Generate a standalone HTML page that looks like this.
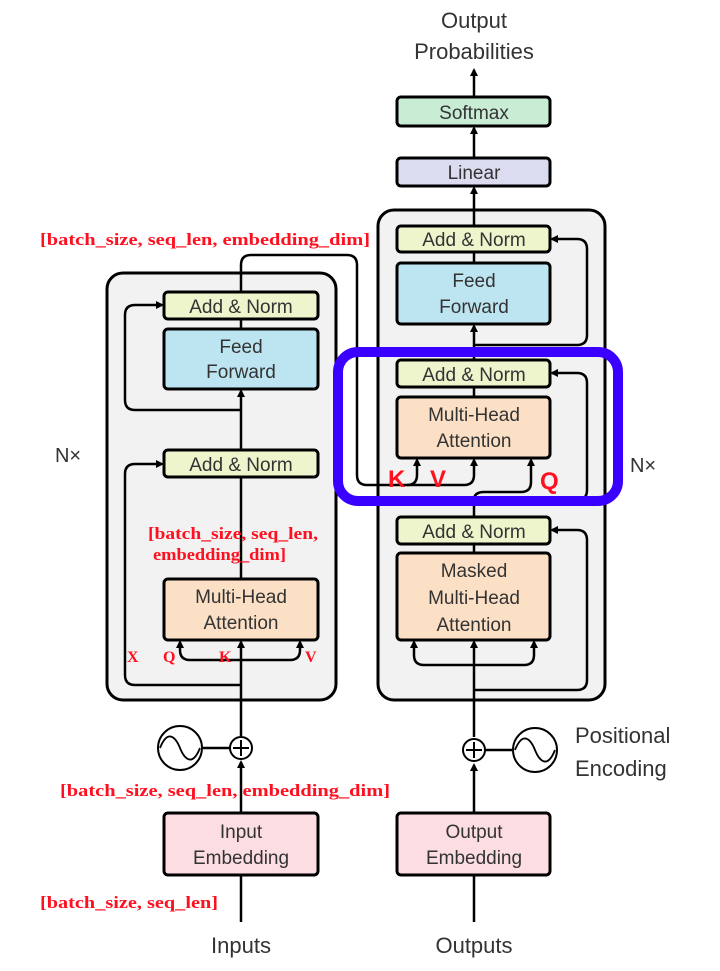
<!DOCTYPE html>
<html><head><meta charset="utf-8"><style>
html,body{margin:0;padding:0;background:#fff;}
svg{display:block;}
.t{font-family:"Liberation Sans",sans-serif;fill:#333;font-size:19px;text-anchor:middle;}
.r{font-family:"Liberation Serif",serif;fill:#ff1020;font-weight:bold;font-size:17px;}
.ln{stroke:#000;stroke-width:2.5;fill:none;}
.bx{stroke:#000;stroke-width:3;}
</style></head><body>
<svg width="720" height="971" viewBox="0 0 720 971" xmlns="http://www.w3.org/2000/svg">
<defs><marker id="a" markerWidth="8" markerHeight="8" refX="6" refY="4" orient="auto" markerUnits="userSpaceOnUse"><path d="M0,0 L8,4 L0,8 Z" fill="#000"/></marker></defs>

<rect x="107" y="273" width="229" height="427" rx="16" fill="#f2f2f2" class="bx"/>
<rect x="378" y="210" width="227" height="490" rx="16" fill="#f2f2f2" class="bx"/>

<path class="ln" d="M241 922 V 822" marker-end="url(#a)"/>
<path class="ln" d="M241 813 V 762" marker-end="url(#a)"/>
<path class="ln" d="M241 736 V 642" marker-end="url(#a)"/>
<path class="ln" d="M241 685 H 135 Q 125 685 125 675 V 474 Q125 464 135 464 H 162" marker-end="url(#a)"/>
<path class="ln" d="M241 660 H 190 Q 180 660 180 650 V 642" marker-end="url(#a)"/>
<path class="ln" d="M241 660 H 290 Q 300 660 300 650 V 642" marker-end="url(#a)"/>
<path class="ln" d="M241 579 V 477"/>
<path class="ln" d="M241 450 V 391" marker-end="url(#a)"/>
<path class="ln" d="M241 410 H 135 Q125 410 125 400 V 315 Q125 305 135 305 H 162" marker-end="url(#a)"/>
<path class="ln" d="M241 329 V 319"/>
<path class="ln" d="M241 292 V 265 Q241 255 251 255 H 347 Q357 255 357 265 V 475 Q357 485 367 485 H 464 Q474 485 474 475 V 460" marker-end="url(#a)"/>
<path class="ln" d="M407 485 Q417 485 417 475 V 460" marker-end="url(#a)"/>

<path class="ln" d="M474 922 V 822" marker-end="url(#a)"/>
<path class="ln" d="M474 813 V 765" marker-end="url(#a)"/>
<path class="ln" d="M474 737 V 642" marker-end="url(#a)"/>
<path class="ln" d="M474 665 H 424 Q414 665 414 655 V 642" marker-end="url(#a)"/>
<path class="ln" d="M474 665 H 524 Q534 665 534 655 V 642" marker-end="url(#a)"/>
<path class="ln" d="M474 690 H 577 Q587 690 587 680 V 540 Q587 530 577 530 H 552" marker-end="url(#a)"/>
<path class="ln" d="M474 553 V 544"/>
<path class="ln" d="M474 517 V 500 Q474 492 484 492 H 521 Q531 492 531 482 V 460" marker-end="url(#a)"/>
<path class="ln" d="M474 500 H 577 Q587 500 587 490 V 383 Q587 373 577 373 H 552" marker-end="url(#a)"/>
<path class="ln" d="M474 397 V 387"/>
<path class="ln" d="M474 360 V 326" marker-end="url(#a)"/>
<path class="ln" d="M474 345 H 577 Q587 345 587 335 V 249 Q587 239 577 239 H 552" marker-end="url(#a)"/>
<path class="ln" d="M474 263 V 252"/>
<path class="ln" d="M474 226 V 188" marker-end="url(#a)"/>
<path class="ln" d="M474 158 V 128" marker-end="url(#a)"/>
<path class="ln" d="M474 97 V 70" marker-end="url(#a)"/>

<rect x="164" y="292" width="154" height="27" rx="4" fill="#eef4cc" class="bx"/>
<text class="t" x="241" y="313">Add &amp; Norm</text>
<rect x="164" y="329" width="154" height="60" rx="4" fill="#bce5f1" class="bx"/>
<text class="t" x="241" y="353">Feed</text><text class="t" x="241" y="378">Forward</text>
<rect x="164" y="450" width="154" height="27" rx="4" fill="#eef4cc" class="bx"/>
<text class="t" x="241" y="471">Add &amp; Norm</text>
<rect x="164" y="579" width="154" height="61" rx="4" fill="#fbe0c6" class="bx"/>
<text class="t" x="241" y="603">Multi-Head</text><text class="t" x="241" y="629">Attention</text>

<rect x="397" y="97" width="153" height="29" rx="4" fill="#c9ecd5" class="bx"/>
<text class="t" x="474" y="119">Softmax</text>
<rect x="397" y="158" width="153" height="28" rx="4" fill="#dcdcf0" class="bx"/>
<text class="t" x="474" y="179">Linear</text>
<rect x="397" y="226" width="153" height="26" rx="4" fill="#eef4cc" class="bx"/>
<text class="t" x="474" y="246">Add &amp; Norm</text>
<rect x="397" y="263" width="153" height="61" rx="4" fill="#bce5f1" class="bx"/>
<text class="t" x="474" y="287">Feed</text><text class="t" x="474" y="313">Forward</text>
<rect x="397" y="360" width="153" height="27" rx="4" fill="#eef4cc" class="bx"/>
<text class="t" x="474" y="381">Add &amp; Norm</text>
<rect x="397" y="397" width="153" height="61" rx="4" fill="#fbe0c6" class="bx"/>
<text class="t" x="474" y="421">Multi-Head</text><text class="t" x="474" y="447">Attention</text>
<rect x="397" y="517" width="153" height="27" rx="4" fill="#eef4cc" class="bx"/>
<text class="t" x="474" y="538">Add &amp; Norm</text>
<rect x="397" y="553" width="153" height="87" rx="4" fill="#fbe0c6" class="bx"/>
<text class="t" x="474" y="577">Masked</text><text class="t" x="474" y="604">Multi-Head</text><text class="t" x="474" y="631">Attention</text>

<rect x="164" y="813" width="154" height="62" rx="4" fill="#fbdde2" class="bx"/>
<text class="t" x="241" y="838">Input</text><text class="t" x="241" y="864">Embedding</text>
<rect x="397" y="813" width="153" height="62" rx="4" fill="#fbdde2" class="bx"/>
<text class="t" x="474" y="838">Output</text><text class="t" x="474" y="864">Embedding</text>

<path class="ln" d="M203 748 H 230"/>
<circle cx="180" cy="748" r="22" fill="#fff" stroke="#000" stroke-width="2"/>
<path d="M160 748 C 168 728, 176 738, 180 748 C 184 758, 192 768, 200 748" fill="none" stroke="#000" stroke-width="1.8"/>
<circle cx="241" cy="748" r="11" fill="#fff" stroke="#000" stroke-width="2"/>
<path d="M233 748 H249 M241 740 V756" stroke="#000" stroke-width="2"/>
<path class="ln" d="M485 750 H 512"/>
<circle cx="535" cy="750" r="22" fill="#fff" stroke="#000" stroke-width="2"/>
<path d="M515 750 C 523 730, 531 740, 535 750 C 539 760, 547 770, 555 750" fill="none" stroke="#000" stroke-width="1.8"/>
<circle cx="474" cy="750" r="11" fill="#fff" stroke="#000" stroke-width="2"/>
<path d="M466 750 H482 M474 742 V758" stroke="#000" stroke-width="2"/>

<text class="t" x="575" y="743" style="text-anchor:start;font-size:22px">Positional</text>
<text class="t" x="575" y="776" style="text-anchor:start;font-size:22px">Encoding</text>
<text class="t" x="474" y="28" style="font-size:22px">Output</text>
<text class="t" x="474" y="59" style="font-size:22px">Probabilities</text>
<text class="t" x="241" y="953" style="font-size:22px">Inputs</text>
<text class="t" x="474" y="953" style="font-size:22px">Outputs</text>
<text class="t" x="68" y="462" style="font-size:20px">N×</text>
<text class="t" x="643" y="472" style="font-size:20px">N×</text>

<rect x="338" y="352" width="280" height="149" rx="20" fill="none" stroke="#3a00ff" stroke-width="10"/>
<text x="388" y="487" style="font-family:'Liberation Sans',sans-serif;font-weight:bold;font-size:24px;fill:#ff1020">K</text>
<text x="430" y="487" style="font-family:'Liberation Sans',sans-serif;font-weight:bold;font-size:24px;fill:#ff1020">V</text>
<text x="540" y="489" style="font-family:'Liberation Sans',sans-serif;font-weight:bold;font-size:24px;fill:#ff1020">Q</text>

<text class="r" x="40" y="245" textLength="330" lengthAdjust="spacingAndGlyphs">[batch_size, seq_len, embedding_dim]</text>
<text class="r" x="148" y="539" textLength="170" lengthAdjust="spacingAndGlyphs">[batch_size,  seq_len,</text>
<text class="r" x="153" y="560" textLength="133" lengthAdjust="spacingAndGlyphs">embedding_dim]</text>
<text class="r" x="60" y="796" textLength="330" lengthAdjust="spacingAndGlyphs">[batch_size, seq_len, embedding_dim]</text>
<text class="r" x="40" y="908" textLength="178" lengthAdjust="spacingAndGlyphs">[batch_size, seq_len]</text>
<text class="r" x="127" y="662" style="font-size:16px">X</text>
<text class="r" x="163" y="662" style="font-size:16px">Q</text>
<text class="r" x="219" y="662" style="font-size:16px">K</text>
<text class="r" x="305" y="662" style="font-size:16px">V</text>
</svg>
</body></html>
